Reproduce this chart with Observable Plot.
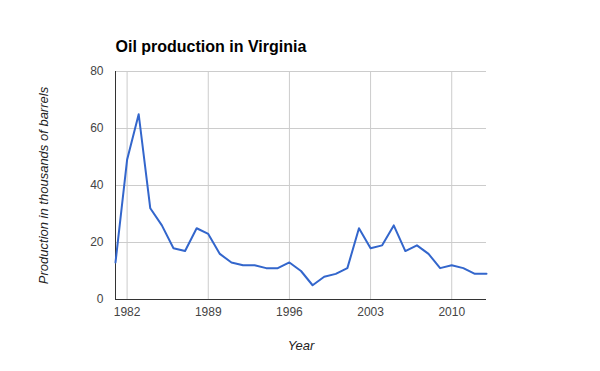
<!DOCTYPE html>
<html>
<head>
<meta charset="utf-8">
<script src="https://cdn.jsdelivr.net/npm/d3@7"></script>
<script src="https://cdn.jsdelivr.net/npm/@observablehq/plot@0.6"></script>
<style>
  html, body { margin: 0; padding: 0; background: #fff; }
  #chart { width: 600px; height: 371px; }
</style>
</head>
<body>
<div id="chart"></div>
<script>
const years = [1981,1982,1983,1984,1985,1986,1987,1988,1989,1990,1991,1992,1993,1994,1995,1996,1997,1998,1999,2000,2001,2002,2003,2004,2005,2006,2007,2008,2009,2010,2011,2012,2013];
const production = [13,49,65,32,26,18,17,25,23,16,13,12,12,11,11,13,10,5,8,9,11,25,18,19,26,17,19,16,11,12,11,9,9];
const xTicks = [1982,1989,1996,2003,2010];
const yTicks = [0,20,40,60,80];
const title = "Oil production in Virginia";
const xLabel = "Year";
const yLabel = "Production in thousands of barrels";

const data = years.map((y, i) => ({year: y, value: production[i]}));
const font = "'Liberation Sans', Arial, sans-serif";

const chart = Plot.plot({
  width: 600,
  height: 371,
  marginLeft: 115,
  marginRight: 114,
  marginTop: 71,
  marginBottom: 72,
  style: {fontFamily: font, fontSize: "12px", color: "#444", background: "#fff", overflow: "visible"},
  x: {domain: [1981, 2013], label: null},
  y: {domain: [0, 80], label: null},
  marks: [
    Plot.gridX(xTicks, {stroke: "#cccccc", strokeOpacity: 1, strokeWidth: 1}),
    Plot.gridY(yTicks, {stroke: "#cccccc", strokeOpacity: 1, strokeWidth: 1}),
    Plot.axisX(xTicks, {tickSize: 0, tickPadding: 8, tickFormat: d => String(d), fill: "#444", fontSize: 12, label: null}),
    Plot.axisY(yTicks, {tickSize: 0, tickPadding: 12, fill: "#444", fontSize: 12, label: null}),
    Plot.ruleX([1981], {stroke: "#333", strokeWidth: 1}),
    Plot.ruleY([0], {stroke: "#333", strokeWidth: 1}),
    Plot.lineY(data, {x: "year", y: "value", stroke: "#3366cc", strokeWidth: 2}),
    Plot.text([title], {frameAnchor: "top-left", textAnchor: "start", lineAnchor: "bottom", dy: -20, fontSize: 16, fontWeight: "bold", fill: "#000"}),
    Plot.text([xLabel], {frameAnchor: "bottom", textAnchor: "middle", lineAnchor: "bottom", dy: 50, fontSize: 13, fontStyle: "italic", fill: "#222"}),
    Plot.text([yLabel], {frameAnchor: "left", textAnchor: "middle", rotate: -90, lineAnchor: "bottom", dx: -68, fontSize: 13, fontStyle: "italic", fill: "#222"})
  ]
});
document.getElementById("chart").appendChild(chart);
</script>
</body>
</html>
